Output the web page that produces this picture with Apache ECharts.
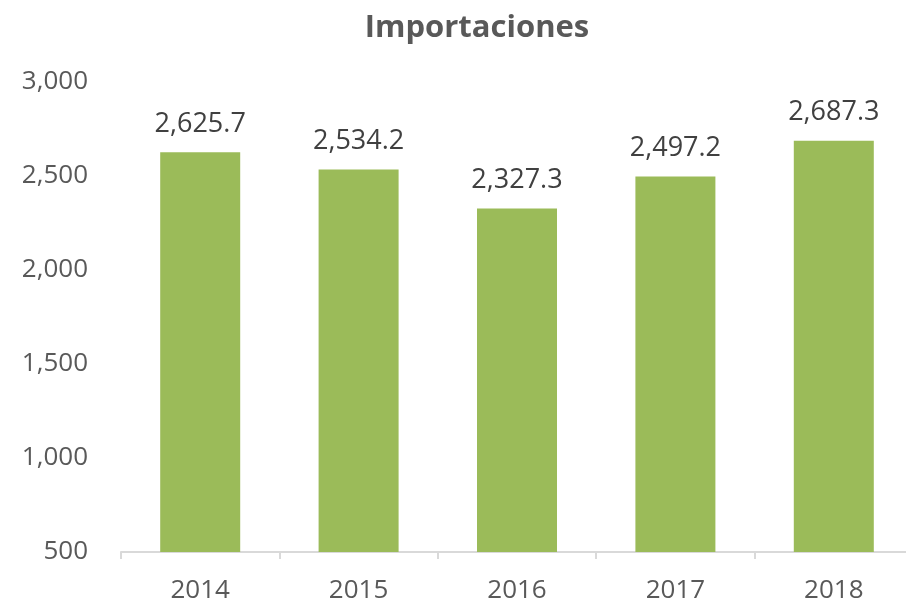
<!DOCTYPE html>
<html>
<head>
<meta charset="utf-8">
<script src="https://cdn.jsdelivr.net/npm/echarts@6/dist/echarts.min.js"></script>
<style>
html,body{margin:0;padding:0;background:#fff;}
#chart{width:906px;height:605px;}
</style>
</head>
<body>
<div id="chart"></div>
<script>
var years=['2014','2015','2016','2017','2018'];
var importaciones=[2625.7,2534.2,2327.3,2497.2,2687.3];
var yTicks=[500,1000,1500,2000,2500,3000];

function fmt(v,dec){
	return v.toLocaleString('en-US',{minimumFractionDigits:dec,maximumFractionDigits:dec});
}

var mychart=echarts.init(document.getElementById('chart'));
var option={
	animation:false,
	textStyle:{fontFamily:'Open Sans'},
	title:{
		text:'Importaciones',
		left:472,
		top:8,
		textAlign:'center',
		textStyle:{fontFamily:'Open Sans',fontSize:31,fontWeight:'bold',color:'#595959'}
	},
	grid:{left:121,width:792,top:82,bottom:53,outerBoundsMode:'none',containLabel:false},
	xAxis:{
		type:'category',
		data:years,
		axisLine:{lineStyle:{color:'#D9D9D9',width:2}},
		axisTick:{show:true,length:7,lineStyle:{color:'#D9D9D9',width:2}},
		axisLabel:{color:'#595959',fontSize:26,margin:26}
	},
	yAxis:{
		type:'value',
		min:yTicks[0],
		max:yTicks[yTicks.length-1],
		interval:500,
		splitLine:{show:false},
		axisLine:{show:false},
		axisTick:{show:false},
		axisLabel:{color:'#595959',fontSize:26,margin:33,formatter:function(v){return fmt(v,0);}}
	},
	series:[{
		type:'bar',
		data:importaciones,
		barWidth:80,
		itemStyle:{color:'#9BBB59'},
		label:{
			show:true,
			position:'top',
			distance:15,
			color:'#404040',
			fontSize:27,
			formatter:function(p){return fmt(p.value,1);}
		}
	}]
};
mychart.setOption(option);
</script>
</body>
</html>
